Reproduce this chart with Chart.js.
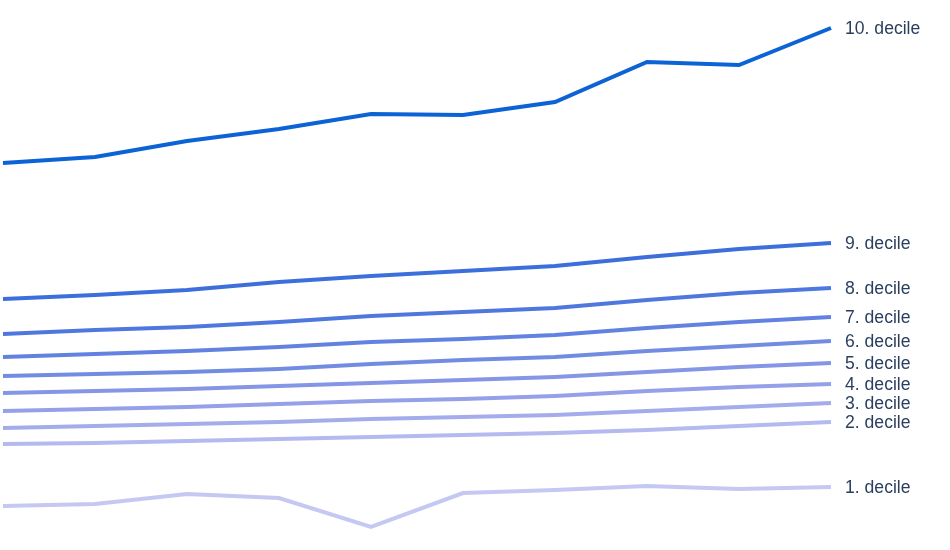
<!DOCTYPE html>
<html lang="en">
<head>
  <meta charset="UTF-8">
  <title>Deciles</title>
  <style>
    body { margin: 0; background: #fff; }
    #wrap { width: 950px; height: 550px; }
  </style>
</head>
<body>
<div id="wrap"><canvas id="myChart"></canvas></div>

<script src="https://cdn.jsdelivr.net/npm/chart.js@4/dist/chart.umd.min.js"></script>
<script>
  // 10 periods, values are heights (no axis shown)
  const periods = ['1', '2', '3', '4', '5', '6', '7', '8', '9', '10']

  const decile1  = [44, 46, 56, 52, 23, 57, 60, 64, 61, 63]
  const decile2  = [106, 107, 109, 111, 113, 115, 117, 120, 124, 128]
  const decile3  = [122, 124, 126, 128, 131, 133, 135, 139, 143, 147]
  const decile4  = [139, 141, 143, 146, 149, 151, 154, 159, 163, 166]
  const decile5  = [157, 159, 161, 164, 167, 170, 173, 178, 183, 187]
  const decile6  = [174, 176, 178, 181, 186, 190, 193, 199, 204, 209]
  const decile7  = [193, 196, 199, 203, 208, 211, 215, 222, 228, 233]
  const decile8  = [216, 220, 223, 228, 234, 238, 242, 250, 257, 262]
  const decile9  = [251, 255, 260, 268, 274, 279, 284, 293, 301, 307]
  const decile10 = [387, 393, 409, 421, 436, 435, 448, 488, 485, 522]

  const names = ['1. decile', '2. decile', '3. decile', '4. decile', '5. decile',
                 '6. decile', '7. decile', '8. decile', '9. decile', '10. decile']
  const series = [decile1, decile2, decile3, decile4, decile5,
                  decile6, decile7, decile8, decile9, decile10]
  const colors = ['#c4c8f2', '#b4b9ef', '#a4acec', '#94a0e8', '#8496e5',
                  '#728ce2', '#6182e0', '#4f78de', '#3c6fdb', '#0b63d6']

  // draws the name of each line just right of its last point
  const endLabels = {
    id: 'endLabels',
    afterDatasetsDraw(chart) {
      const c = chart.ctx
      c.save()
      c.font = '17.6px "Liberation Sans", Arial, sans-serif'
      c.fillStyle = '#2a3f5f'
      c.textBaseline = 'middle'
      chart.data.datasets.forEach((ds, i) => {
        const pts = chart.getDatasetMeta(i).data
        const last = pts[pts.length - 1]
        c.fillText(ds.label, last.x + 14, last.y + 1)
      })
      c.restore()
    }
  }

  const ctx = document.getElementById('myChart')
  new Chart(ctx, {
    type: 'line',
    data: {
      labels: periods,
      datasets: series.map((d, i) => ({
        label: names[i],
        data: d,
        borderColor: colors[i],
        borderWidth: 4,
        pointRadius: 0,
        tension: 0,
        fill: false
      }))
    },
    options: {
      responsive: true,
      maintainAspectRatio: false,
      animation: false,
      layout: { padding: { left: 3, right: 119, top: 0, bottom: 0 } },
      plugins: { legend: { display: false }, tooltip: { enabled: false } },
      scales: {
        x: { display: false, offset: false },
        y: { display: false, min: 0, max: 550 }
      }
    },
    plugins: [endLabels]
  })
</script>
</body>
</html>
